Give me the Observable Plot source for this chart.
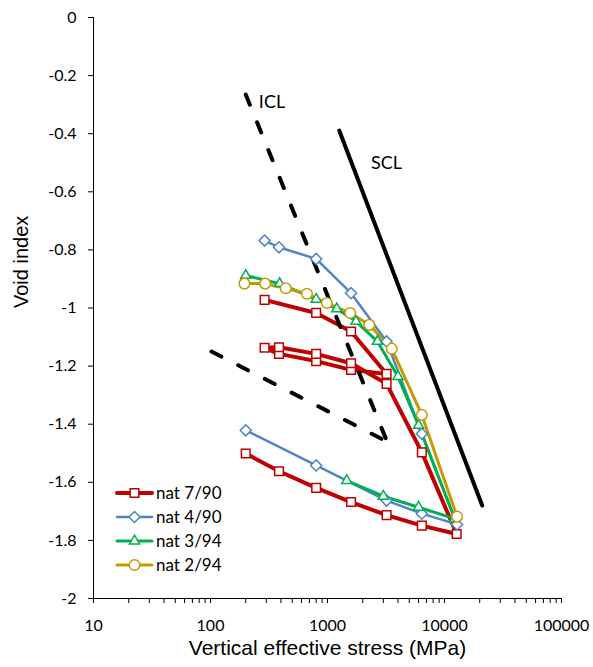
<!DOCTYPE html>
<html>
<head>
<meta charset="utf-8">
<script src="https://cdn.jsdelivr.net/npm/d3@7"></script>
<script src="https://cdn.jsdelivr.net/npm/@observablehq/plot@0.6"></script>
<style>
  html, body { margin: 0; padding: 0; background: #fff; }
  #wrap { position: relative; width: 593px; height: 667px; }
  #legend { position: absolute; left: 0; top: 0; pointer-events: none; }
</style>
</head>
<body>
<div id="wrap"></div>
<script>
// ---------- data ----------
const seriesNames = ["nat 7/90", "nat 4/90", "nat 3/94", "nat 2/94"];
const seriesColors = ["#C00000", "#4F86C3", "#00B050", "#C49A00"];
const seriesLineWidths = [4, 2.5, 3, 3];
const seriesSymbols = ["square2", "diamond2", "triangle2", "circle"];

const nat7_90_stress = [290, 800, 1590, 3200, 1590, 800, 385, 290, 385, 800, 1590, 3200, 6400, 12700, 6400, 3200, 1590, 800, 385, 200];
const nat7_90_void   = [-0.972, -1.017, -1.081, -1.227, -1.213, -1.183, -1.158, -1.137, -1.135, -1.158, -1.190, -1.261, -1.497, -1.778, -1.749, -1.713, -1.668, -1.619, -1.562, -1.501];

const nat4_90_stress = [290, 385, 800, 1590, 3200, 6400, 12800, 6400, 3200, 800, 200];
const nat4_90_void   = [-0.768, -0.791, -0.831, -0.949, -1.115, -1.433, -1.745, -1.708, -1.663, -1.542, -1.421];

const nat3_94_stress = [200, 390, 800, 1200, 1750, 2670, 4000, 6000, 12200, 6000, 3000, 1460];
const nat3_94_void   = [-0.888, -0.916, -0.970, -1.003, -1.046, -1.115, -1.236, -1.404, -1.725, -1.686, -1.648, -1.594];

const nat2_94_stress = [195, 293, 440, 667, 988, 1564, 2275, 3540, 6400, 12800];
const nat2_94_void   = [-0.916, -0.916, -0.932, -0.951, -0.983, -1.017, -1.058, -1.140, -1.368, -1.718];

const iclUpper_stress = [200, 3230];
const iclUpper_void   = [-0.265, -1.46];
const iclLower_stress = [102, 3230];
const iclLower_void   = [-1.15, -1.46];
const scl_stress = [1260, 21000];
const scl_void   = [-0.389, -1.68];

const lineLabels = ["ICL", "SCL"];
const lineLabel_stress = [259, 2355];
const lineLabel_void = [-0.31, -0.52];

const xTicks = [10, 100, 1000, 10000, 100000];
const yTicks = [0, -0.2, -0.4, -0.6, -0.8, -1, -1.2, -1.4, -1.6, -1.8, -2];
const xTitle = "Vertical effective stress (MPa)";
const yTitle = "Void index";

// ---------- build tables ----------
const zip = (xs, ys) => xs.map((x, i) => ({stress: x, void: ys[i]}));
const seriesData = [
  zip(nat7_90_stress, nat7_90_void),
  zip(nat4_90_stress, nat4_90_void),
  zip(nat3_94_stress, nat3_94_void),
  zip(nat2_94_stress, nat2_94_void)
];
const minorTicks = [];
for (const d of [10, 100, 1000, 10000]) for (let k = 2; k <= 9; k++) minorTicks.push(d * k);

const symbolR = [5.5, 5.0, 4.8, 5.3];
const yFmt = d => (Math.abs(d) < 1e-9 ? "0" : d.toFixed(1).replace(/\.0$/, ""));

const marks = [];
// axis lines
marks.push(Plot.ruleX([10], {stroke: "#000", strokeWidth: 1}));
marks.push(Plot.ruleY([-2], {stroke: "#000", strokeWidth: 1}));
marks.push(Plot.axisX(minorTicks, {tickSize: 5, tickFormat: () => "", label: null, stroke: "#000"}));
marks.push(Plot.axisX(xTicks, {tickSize: 5, tickPadding: 16, tickFormat: d => String(d), label: null, fontSize: 16, fontFamily: "Lato", fill: "#000", stroke: "#000"}));
marks.push(Plot.axisY(yTicks, {tickSize: 5, tickPadding: 12, tickFormat: yFmt, label: null, fontSize: 16, fontFamily: "Lato", fill: "#000", stroke: "#000"}));

// series lines
seriesData.forEach((data, i) => {
  marks.push(Plot.line(data, {x: "stress", y: "void", stroke: seriesColors[i], strokeWidth: seriesLineWidths[i], strokeLinejoin: "round"}));
});
// ICL / SCL
marks.push(Plot.line(zip(iclUpper_stress, iclUpper_void), {x: "stress", y: "void", stroke: "#000", strokeWidth: 4, strokeDasharray: "11,19", strokeLinecap: "round"}));
marks.push(Plot.line(zip(iclLower_stress, iclLower_void), {x: "stress", y: "void", stroke: "#000", strokeWidth: 4, strokeDasharray: "11,19", strokeLinecap: "round"}));
marks.push(Plot.line(zip(scl_stress, scl_void), {x: "stress", y: "void", stroke: "#000", strokeWidth: 4, strokeLinecap: "round"}));
marks.push(Plot.text(lineLabels.map((t, i) => ({t, stress: lineLabel_stress[i], void: lineLabel_void[i]})),
  {x: "stress", y: "void", text: "t", textAnchor: "start", lineAnchor: "bottom", fontSize: 18, fontFamily: "Lato", fill: "#000"}));
// markers
seriesData.forEach((data, i) => {
  marks.push(Plot.dot(data, {x: "stress", y: "void", symbol: seriesSymbols[i], r: symbolR[i], fill: "white", stroke: seriesColors[i], strokeWidth: 1.5}));
});
// axis titles
marks.push(Plot.text([xTitle], {frameAnchor: "bottom", lineAnchor: "middle", text: d => d, dy: 50, fontSize: 21, fontFamily: "Liberation Sans", fill: "#000"}));
marks.push(Plot.text([yTitle], {frameAnchor: "left", lineAnchor: "middle", text: d => d, dx: -72, rotate: -90, fontSize: 20, fontFamily: "Liberation Sans", fill: "#000"}));

const chart = Plot.plot({
  width: 593,
  height: 667,
  marginLeft: 93,
  marginRight: 32,
  marginTop: 17,
  marginBottom: 69,
  x: {type: "log", domain: [10, 100000], axis: null},
  y: {domain: [-2, 0], axis: null},
  style: {background: "#fff", color: "#000", fontFamily: "Lato"},
  marks
});
document.getElementById("wrap").appendChild(chart);

// ---------- legend ----------
const leg = d3.select("#wrap").append("svg").attr("id", "legend").attr("width", 593).attr("height", 667);
const symMap = {square2: d3.symbolSquare2, diamond2: d3.symbolDiamond2, triangle2: d3.symbolTriangle2, circle: d3.symbolCircle};
seriesNames.forEach((name, i) => {
  const y = 493 + 24 * i;
  const g = leg.append("g");
  g.append("line").attr("x1", 117).attr("x2", 152).attr("y1", y).attr("y2", y)
    .attr("stroke", seriesColors[i]).attr("stroke-width", seriesLineWidths[i]).attr("stroke-linecap", "round");
  g.append("path").attr("d", d3.symbol(symMap[seriesSymbols[i]], Math.PI * symbolR[i] * symbolR[i])())
    .attr("transform", `translate(134.5,${y})`).attr("fill", "white").attr("stroke", seriesColors[i]).attr("stroke-width", 1.5);
  g.append("text").attr("x", 156).attr("y", y).attr("dy", "0.35em").attr("font-family", "Lato").attr("font-size", 17).attr("fill", "#000").text(name);
});
</script>
</body>
</html>
